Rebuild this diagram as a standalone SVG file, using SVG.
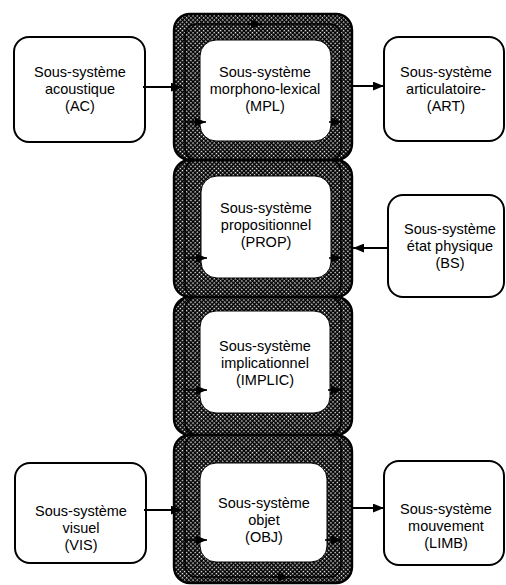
<svg xmlns="http://www.w3.org/2000/svg" width="506" height="585" viewBox="0 0 506 585">
<style>
.box{fill:#fff;stroke:#000;stroke-width:2}
.blk{fill:url(#hatch);stroke:#000;stroke-width:2.4}
.bus{fill:none;stroke:#000;stroke-width:1.6}
.inner{fill:#fff;stroke:#000;stroke-width:1}
.t{font-family:"Liberation Sans",Arial,sans-serif;font-size:14.5px;text-anchor:middle;fill:#000}
.c{fill:none;stroke:#000;stroke-width:2;marker-end:url(#ah)}
.ci{fill:none;stroke:#000;stroke-width:1.6;marker-end:url(#ah)}
</style>
<defs>
<pattern id="hatch" width="3" height="3" patternUnits="userSpaceOnUse" patternTransform="rotate(45)">
<rect width="3" height="3" fill="#000"/>
<rect width="1.4" height="1.4" fill="#fff"/>
</pattern>
<marker id="ah" viewBox="0 0 10 8" refX="10" refY="4" markerWidth="11" markerHeight="9" markerUnits="userSpaceOnUse" orient="auto">
<path d="M0,0 L10,4 L0,8 z" fill="#000"/>
</marker>
</defs>
<rect width="506" height="585" fill="#fff"/>

<g id="node-AC">
<rect class="box" x="14" y="37" width="131" height="105" rx="15"/>
<text class="t" x="80" y="77">Sous-système</text>
<text class="t" x="80" y="94">acoustique</text>
<text class="t" x="80" y="111">(AC)</text>
</g>
<g id="node-ART">
<rect class="box" x="384" y="37" width="120" height="104" rx="15"/>
<text class="t" x="446" y="77">Sous-système</text>
<text class="t" x="446" y="94">articulatoire-</text>
<text class="t" x="446" y="111">(ART)</text>
</g>
<g id="node-BS">
<rect class="box" x="388" y="195" width="116" height="102" rx="15"/>
<text class="t" x="450" y="234">Sous-système</text>
<text class="t" x="450" y="251">état physique</text>
<text class="t" x="450" y="268">(BS)</text>
</g>
<g id="node-VIS">
<rect class="box" x="15" y="463" width="131" height="100" rx="15"/>
<text class="t" x="81" y="516">Sous-système</text>
<text class="t" x="81" y="533">visuel</text>
<text class="t" x="81" y="550">(VIS)</text>
</g>
<g id="node-LIMB">
<rect class="box" x="384" y="461" width="120" height="104" rx="15"/>
<text class="t" x="446" y="514">Sous-système</text>
<text class="t" x="446" y="531">mouvement</text>
<text class="t" x="446" y="548">(LIMB)</text>
</g>

<g id="node-MPL">
<rect class="blk" x="174" y="14" width="178" height="146" rx="16"/>
<rect class="bus" x="185" y="24" width="156" height="136" rx="12"/>
<rect class="inner" x="200" y="40" width="131" height="101" rx="16"/>
<text class="t" x="265" y="77">Sous-système</text>
<text class="t" x="265" y="94">morphono-lexical</text>
<text class="t" x="265" y="111">(MPL)</text>
</g>
<g id="node-PROP">
<rect class="blk" x="174" y="160" width="178" height="137" rx="16"/>
<rect class="bus" x="185" y="160" width="156" height="137" rx="12"/>
<rect class="inner" x="201" y="176" width="130" height="102" rx="16"/>
<text class="t" x="266" y="213">Sous-système</text>
<text class="t" x="266" y="230">propositionnel</text>
<text class="t" x="266" y="247">(PROP)</text>
</g>
<g id="node-IMPLIC">
<rect class="blk" x="174" y="297" width="178" height="138" rx="16"/>
<rect class="bus" x="185" y="297" width="156" height="138" rx="12"/>
<rect class="inner" x="200" y="311" width="130" height="102" rx="16"/>
<text class="t" x="265" y="351">Sous-système</text>
<text class="t" x="265" y="368">implicationnel</text>
<text class="t" x="265" y="385">(IMPLIC)</text>
</g>
<g id="node-OBJ">
<rect class="blk" x="174" y="435" width="178" height="148" rx="16"/>
<rect class="bus" x="185" y="435" width="156" height="142" rx="12"/>
<rect class="inner" x="200" y="463" width="127" height="99" rx="16"/>
<text class="t" x="264" y="508">Sous-système</text>
<text class="t" x="264" y="525">objet</text>
<text class="t" x="264" y="542">(OBJ)</text>
</g>

<g id="connectors">
<path class="c" d="M143,87 H182"/>
<path class="c" d="M351,86 H384"/>
<path class="c" d="M388,248 H353"/>
<path class="c" d="M144,510 H182"/>
<path class="c" d="M351,508 H384"/>
<path class="ci" d="M186,122 H206"/>
<path class="ci" d="M329,122 H342"/>
<path class="ci" d="M186,258 H207"/>
<path class="ci" d="M329,258 H342"/>
<path class="ci" d="M186,390 H207"/>
<path class="ci" d="M328,390 H342"/>
<path class="ci" d="M186,540 H207"/>
<path class="ci" d="M325,540 H342"/>
<path class="ci" d="M248,24 H262"/>
<path class="ci" d="M272,577 H289"/>
</g>
</svg>
